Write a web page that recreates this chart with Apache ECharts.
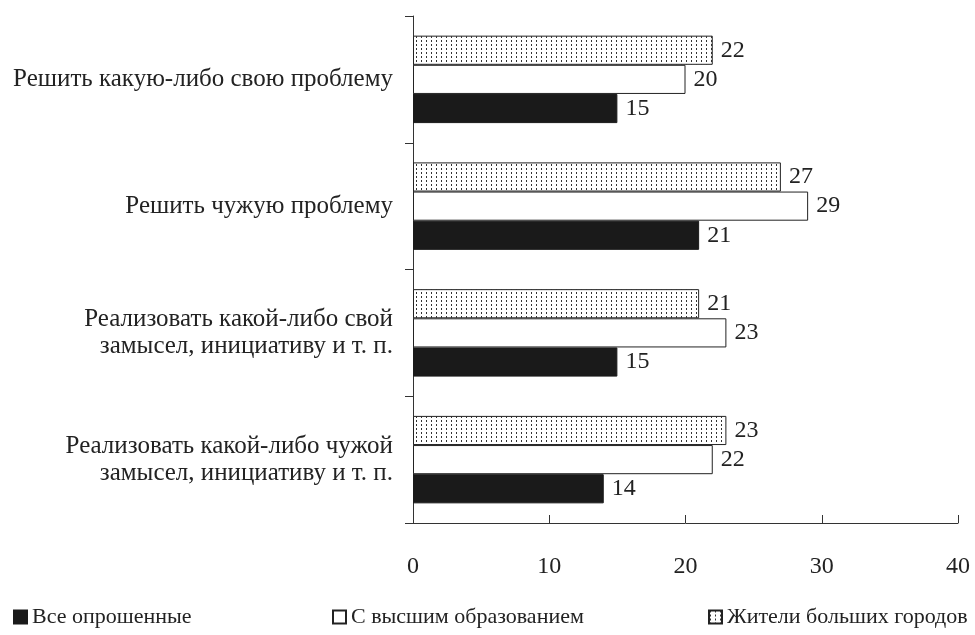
<!DOCTYPE html>
<html><head><meta charset="utf-8">
<script src="https://cdn.jsdelivr.net/npm/echarts@6/dist/echarts.min.js"></script>
<style>html,body{margin:0;padding:0;background:#fff}#c{width:975px;height:635px}</style>
</head><body><div id="c"></div>
<script>
const categories = [
  'Решить какую-либо свою проблему',
  'Решить чужую проблему',
  'Реализовать какой-либо свой\nзамысел, инициативу и т. п.',
  'Реализовать какой-либо чужой\nзамысел, инициативу и т. п.'
];
const seriesNames = ['Жители больших городов', 'С высшим образованием', 'Все опрошенные'];
const bigCities = [22, 27, 21, 23];
const higherEdu = [20, 29, 23, 22];
const allResp = [15, 21, 15, 14];
const xTicks = [0, 10, 20, 30, 40];

const FONT = '"Liberation Serif", "DejaVu Serif", serif';
const pc = document.createElement('canvas');
pc.width = 5; pc.height = 4;
const px = pc.getContext('2d');
px.fillStyle = '#fff'; px.fillRect(0, 0, 5, 4);
px.fillStyle = '#333'; px.fillRect(1, 0, 1, 2);
const pattern = { image: pc, repeat: 'repeat' };

const chart = echarts.init(document.getElementById('c'), null, { renderer: 'canvas' });
const lbl = { show: true, position: 'right', distance: 8, color: '#222', fontFamily: FONT, fontSize: 24 };
const legendBase = { top: 601, itemWidth: 13, itemHeight: 13, itemGap: 8, icon: 'rect',
  textStyle: { fontFamily: FONT, fontSize: 22, color: '#222' } };
chart.setOption({
  animation: false,
  grid: { left: 413, right: 17, top: 16, bottom: 112 },
  legend: [
    Object.assign({ left: 8, data: [seriesNames[2]] }, legendBase),
    Object.assign({ left: 327, data: [seriesNames[1]] }, legendBase),
    Object.assign({ left: 703, data: [seriesNames[0]] }, legendBase)
  ],
  xAxis: {
    type: 'value', min: xTicks[0], max: xTicks[xTicks.length - 1], interval: 10,
    axisLine: { show: true, lineStyle: { color: '#333', width: 1 } },
    axisTick: { show: true, inside: true, length: 8, lineStyle: { color: '#333' } },
    axisLabel: { fontFamily: FONT, fontSize: 24, color: '#222', margin: 32 },
    splitLine: { show: false }
  },
  yAxis: {
    type: 'category', data: categories, inverse: true,
    axisLine: { show: true, lineStyle: { color: '#333', width: 1 } },
    axisTick: { show: true, length: 8, lineStyle: { color: '#333' } },
    axisLabel: { fontFamily: FONT, fontSize: 25, color: '#222', margin: 20, lineHeight: 27, align: 'right' }
  },
  series: [
    { name: seriesNames[0], type: 'bar', data: bigCities, barGap: '0%', barCategoryGap: '31%',
      itemStyle: { color: pattern, borderColor: '#222', borderWidth: 1 }, label: lbl },
    { name: seriesNames[1], type: 'bar', data: higherEdu, barGap: '0%', barCategoryGap: '31%',
      itemStyle: { color: '#fff', borderColor: '#222', borderWidth: 1 }, label: lbl },
    { name: seriesNames[2], type: 'bar', data: allResp, barGap: '0%', barCategoryGap: '31%',
      itemStyle: { color: '#1a1a1a', borderColor: '#1a1a1a', borderWidth: 1 }, label: lbl }
  ]
});
</script></body></html>
